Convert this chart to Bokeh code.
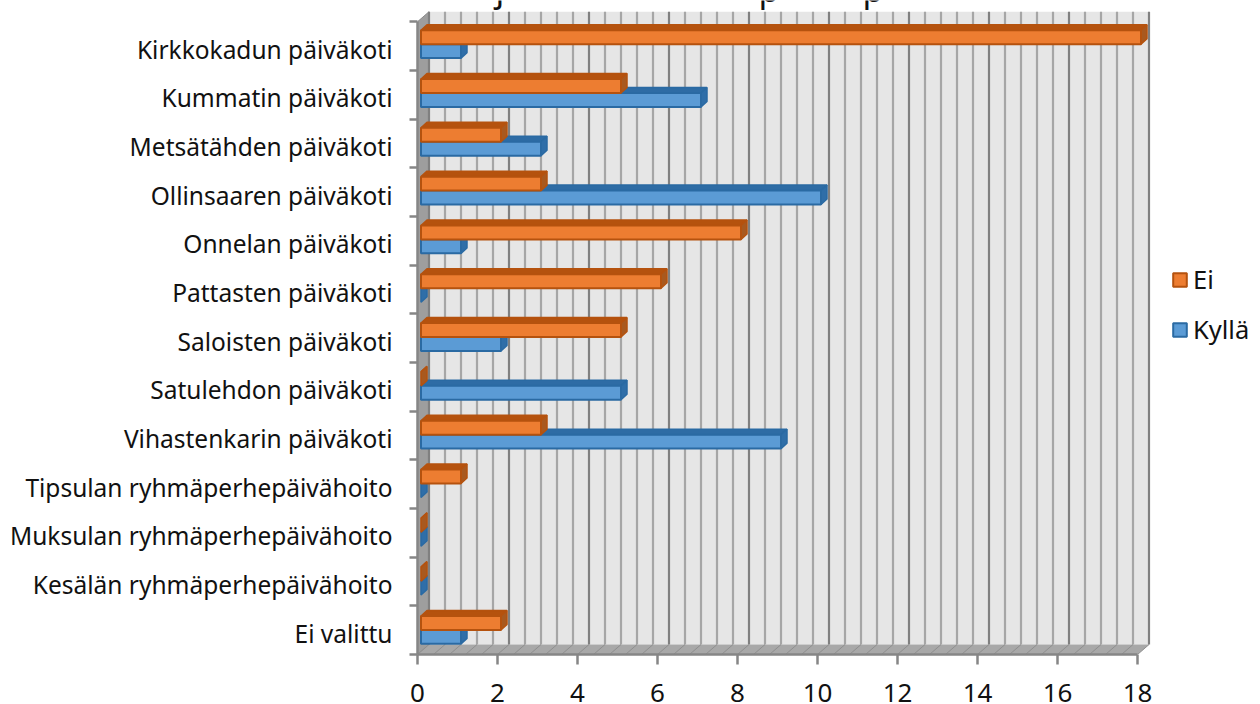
from bokeh.plotting import figure
from bokeh.models import Range1d, FixedTicker, Legend, LegendItem
from bokeh.core.properties import value
from bokeh.embed import file_html
from bokeh.resources import INLINE

categories = ["Kirkkokadun päiväkoti", "Kummatin päiväkoti", "Metsätähden päiväkoti",
              "Ollinsaaren päiväkoti", "Onnelan päiväkoti", "Pattasten päiväkoti",
              "Saloisten päiväkoti", "Satulehdon päiväkoti", "Vihastenkarin päiväkoti",
              "Tipsulan ryhmäperhepäivähoito", "Muksulan ryhmäperhepäivähoito",
              "Kesälän ryhmäperhepäivähoito", "Ei valittu"]
ei = [18, 5, 2, 3, 8, 6, 5, 0, 3, 1, 0, 0, 2]
kylla = [1, 7, 3, 10, 1, 0, 2, 5, 9, 0, 0, 0, 1]

FONT = "Noto Sans"
PX_X = 40.0
PX_Y = 48.86
X_MAX = 18
W, H = 1260, 704
F_L, F_R, F_T, F_B = 417.0, float(W), 0.0, 656.5

n = len(categories)
p = figure(width=W, height=H, output_backend="svg", toolbar_location=None,
           x_range=Range1d(0, (F_R - F_L) / PX_X),
           y_range=Range1d(n, -(F_B - F_T - n * PX_Y) / PX_Y),
           min_border_left=int(F_L), min_border_right=0,
           min_border_top=0, min_border_bottom=H - int(F_B),
           x_axis_location="below", y_axis_location="left")
p.outline_line_color = None
p.grid.visible = False
p.background_fill_color = None

AX = "#868686"
xa = p.xaxis[0]
xa.ticker = FixedTicker(ticks=list(range(0, X_MAX + 1, 2)))
xa.bounds = (0, X_MAX)
xa.axis_line_color = AX
xa.axis_line_width = 2.5
xa.major_tick_line_color = AX
xa.major_tick_line_width = 2.5
xa.major_tick_out = 10
xa.major_tick_in = 0
xa.minor_tick_out = 0
xa.major_label_standoff = 19
xa.major_label_text_font = FONT
xa.major_label_text_font_size = "26px"
xa.major_label_text_color = "#111111"

LABEL_POS = 0.5 + 3.0 / PX_Y
ya = p.yaxis[0]
ya.ticker = FixedTicker(ticks=[i + LABEL_POS for i in range(n)], minor_ticks=list(range(n + 1)))
ya.bounds = (0, n)
ya.major_label_overrides = {i + LABEL_POS: c for i, c in enumerate(categories)}
ya.axis_line_color = AX
ya.axis_line_width = 2.5
ya.major_tick_line_color = None
ya.major_tick_out = 0
ya.major_tick_in = 0
ya.minor_tick_line_color = AX
ya.minor_tick_line_width = 2.5
ya.minor_tick_out = 8
ya.minor_tick_in = 0
ya.major_label_standoff = 17
ya.major_label_text_font = FONT
ya.major_label_text_font_size = "24.5px"
ya.major_label_text_color = "#111111"

# 3-D box
DX = 11.5 / PX_X
DY = 10.0 / PX_Y
p.patch([DX, X_MAX + DX, X_MAX + DX, DX], [-DY, -DY, n - DY, n - DY],
        fill_color="#e6e6e6", line_color=None)
p.patch([0, DX, DX, 0], [0, -DY, n - DY, n], fill_color="#9e9e9e", line_color="#8a8a8a", line_width=1)
p.patch([0, DX, X_MAX + DX, X_MAX], [n, n - DY, n - DY, n], fill_color="#a8a8a8", line_color=None)

minor = [i * 0.4 for i in range(1, 45) if i % 5]
major = [i * 2 for i in range(0, 10)]
p.segment([m + DX for m in minor], [-DY] * len(minor), [m + DX for m in minor], [n - DY] * len(minor),
          line_color="#a6a6a6", line_width=2.2)
p.segment([m + DX for m in major], [-DY] * len(major), [m + DX for m in major], [n - DY] * len(major),
          line_color="#808080", line_width=2.2)
floor = minor + major
p.segment(floor, [n] * len(floor), [m + DX for m in floor], [n - DY] * len(floor),
          line_color="#8e8e8e", line_width=1)

# bars
B_X = 3.5 / PX_X
B_DX = 6.0 / PX_X
B_DY = 5.5 / PX_Y
B_H = 14.0 / PX_Y
B_0 = 22.5 / PX_Y
B_P = 49.0 / PX_Y


def bars(vals, upper, front, edge, top, side):
    x0 = [B_X] * n
    x1 = [B_X + v for v in vals]
    yt = [B_0 + i * B_P - (B_H if upper else 0) for i in range(n)]
    yb = [t + B_H for t in yt]
    p.patches([[a, a + B_DX, b + B_DX, b] for a, b in zip(x0, x1)],
              [[t, t - B_DY, t - B_DY, t] for t in yt],
              fill_color=top, line_color=edge, line_width=1.5)
    p.patches([[b, b + B_DX, b + B_DX, b] for b in x1],
              [[t, t - B_DY, u - B_DY, u] for t, u in zip(yt, yb)],
              fill_color=side, line_color=edge, line_width=1.5)
    keep = [i for i, v in enumerate(vals) if v > 0]
    return p.quad(left=[x0[i] for i in keep], right=[x1[i] for i in keep],
                  top=[yt[i] for i in keep], bottom=[yb[i] for i in keep],
                  fill_color=front, line_color=edge, line_width=2)


r_k = bars(kylla, False, "#5b9bd5", "#2a6aa3", "#2e6ca5", "#2f6ea8")
r_e = bars(ei, True, "#ed7d31", "#b5520e", "#b5520e", "#a8591f")

# visible remainder of the cut-off chart title
for ch, px in [("j", 495), ("p", 758), ("p", 862)]:
    p.text([(px - F_L) / PX_X], [(-12 - (F_B - n * PX_Y)) / PX_Y], text=[ch], text_font=value(FONT),
           text_font_size="34px", text_baseline="alphabetic", text_color="#111111")

legend = Legend(items=[LegendItem(label="Ei", renderers=[r_e]), LegendItem(label="Kyllä", renderers=[r_k])],
                location=(754, 308), orientation="vertical", background_fill_alpha=0,
                border_line_color=None, margin=0, padding=0, spacing=16,
                glyph_width=17, glyph_height=17, label_standoff=5,
                label_text_font=FONT, label_text_font_size="25.5px", label_text_color="#111111")
p.add_layout(legend)

open("out.html", "w").write(file_html(p, INLINE))
